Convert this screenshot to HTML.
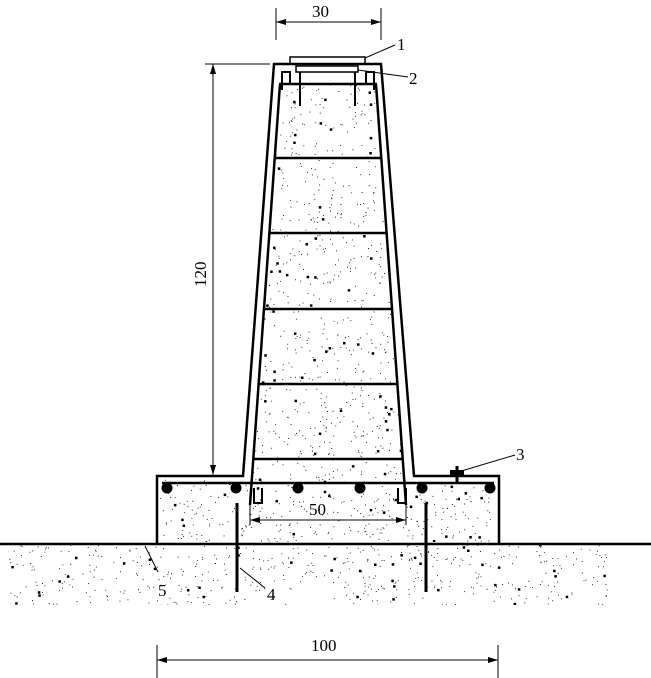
<!DOCTYPE html>
<html><head><meta charset="utf-8"><style>
html,body{margin:0;padding:0;background:#fff;}
svg{display:block;}
text{font-family:"Liberation Serif",serif;font-size:17px;fill:#000;}
</style></head><body>
<svg id="s" width="651" height="678" viewBox="0 0 651 678" xmlns="http://www.w3.org/2000/svg">
<defs>
<clipPath id="c1">
<polygon points="280,84 376,84 406,505 250,505"/>
<rect x="160" y="479" width="337" height="63"/>
<rect x="8" y="545" width="600" height="60"/>
</clipPath>
</defs>
<g id="dots" clip-path="url(#c1)" fill="#000"></g>
<g stroke="#000" fill="none">
<!-- pillar outer -->
<polyline points="157,543 157,476 243,476 274,64 381,64 414,476 499,476 499,543" stroke-width="2.5"/>
<!-- inner -->
<line x1="280" y1="84" x2="250" y2="505" stroke-width="2.5"/>
<line x1="376" y1="84" x2="406" y2="505" stroke-width="2.5"/>
<g stroke-width="2.5">
<line x1="279" y1="84" x2="377" y2="84"/>
<line x1="275" y1="158" x2="382" y2="158"/>
<line x1="269" y1="233" x2="387" y2="233"/>
<line x1="264" y1="309" x2="393" y2="309"/>
<line x1="258" y1="384" x2="398" y2="384"/>
<line x1="253" y1="459" x2="403" y2="459"/>
<line x1="162" y1="483" x2="494" y2="483"/>
</g>
<!-- top cap -->
<rect x="290" y="57" width="75" height="7" stroke-width="1.5"/>
<rect x="296" y="66" width="62" height="6" stroke-width="1.5"/>
<path d="M282,90 V72 H290 V84 M374,90 V72 H366 V84" stroke-width="2"/>
<line x1="300" y1="72" x2="300" y2="106" stroke-width="2"/>
<line x1="355" y1="72" x2="355" y2="106" stroke-width="2"/>
<!-- bottom hooks -->
<path d="M254,488 V503 H262 V488 M398,488 V503 H406 V488" stroke-width="2"/>
<!-- ground -->
<line x1="0" y1="544" x2="651" y2="544" stroke-width="2.5"/>
<!-- anchors -->
<line x1="237" y1="503" x2="237" y2="592" stroke-width="3"/>
<line x1="426" y1="503" x2="426" y2="592" stroke-width="3"/>
<!-- bolt 3 -->
<rect x="450" y="470" width="14" height="5" fill="#000" stroke="none"/>
<line x1="457" y1="466" x2="457" y2="483" stroke-width="3"/>
<!-- dims -->
<g stroke-width="1">
<line x1="276" y1="8" x2="276" y2="40"/><line x1="381" y1="8" x2="381" y2="40"/>
<line x1="276" y1="22" x2="381" y2="22"/>
<line x1="205" y1="64" x2="270" y2="64"/>
<line x1="213" y1="64" x2="213" y2="475"/>
<line x1="250" y1="505" x2="250" y2="525"/><line x1="406" y1="505" x2="406" y2="525"/>
<line x1="250" y1="520" x2="406" y2="520"/>
<line x1="157" y1="645" x2="157" y2="678"/><line x1="498" y1="645" x2="498" y2="678"/>
<line x1="157" y1="660" x2="498" y2="660"/>
<!-- leaders -->
<line x1="365" y1="58" x2="395" y2="45"/>
<line x1="358" y1="70" x2="408" y2="77"/>
<line x1="458" y1="472" x2="515" y2="455"/>
<line x1="240" y1="568" x2="265" y2="588"/>
<line x1="145" y1="546" x2="158" y2="572"/>
</g>
</g>
<g fill="#000">
<path d="M276,22 l10,-3 v6z M381,22 l-10,-3 v6z"/>
<path d="M213,64 l-3,10 h6z M213,475 l-3,-10 h6z"/>
<path d="M250,520 l10,-3 v6z M406,520 l-10,-3 v6z"/>
<path d="M157,660 l10,-3 v6z M498,660 l-10,-3 v6z"/>
<circle cx="167" cy="488" r="5.5"/><circle cx="236" cy="488" r="5.5"/>
<circle cx="298" cy="488" r="5.5"/><circle cx="360" cy="488" r="5.5"/>
<circle cx="422" cy="488" r="5.5"/><circle cx="490" cy="488" r="5.5"/>
</g>
<text x="312" y="17">30</text>
<text x="397" y="50">1</text>
<text x="409" y="84">2</text>
<text x="516" y="460">3</text>
<text x="267" y="600">4</text>
<text x="158" y="596">5</text>
<text x="309" y="515">50</text>
<text x="311" y="651">100</text>
<text x="0" y="0" transform="translate(206,287) rotate(-90)">120</text>
</svg>
<script>
var g=document.getElementById('dots');var s=12345;function r(){s=(s*16807)%2147483647;return s/2147483647;}
var ns="http://www.w3.org/2000/svg";var h='';
for(var i=0;i<5000;i++){var x=r()*651,y=60+r()*560;var w=r()<0.93?0.9:2.5;h+='<rect x="'+x.toFixed(1)+'" y="'+y.toFixed(1)+'" width="'+w+'" height="'+w+'"/>';}
g.innerHTML=h;
</script>
</body></html>
